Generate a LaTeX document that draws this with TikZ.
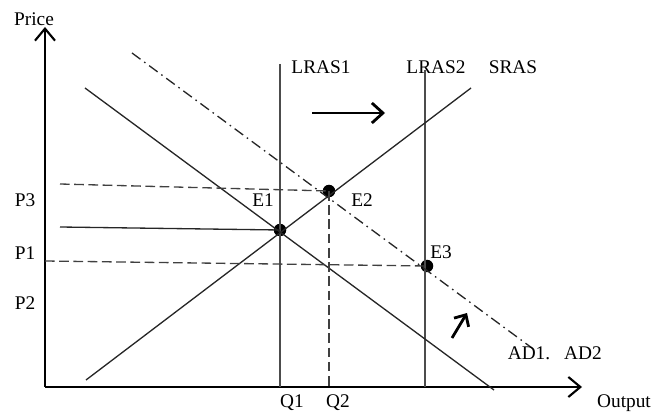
\documentclass[tikz,border=0pt]{standalone}
\usepackage{fontspec}
\setmainfont{Liberation Serif}
\usetikzlibrary{arrows.meta}
\usetikzlibrary{positioning}

\begin{document}
\begin{tikzpicture}[x=0.02cm, y=-0.02cm, font=\fontsize{11}{13}\selectfont,
		curve/.style={line width=0.75pt, black!85},
		vline/.style={line width=0.75pt, black!70},
		guide/.style={line width=0.75pt, black!75, dash pattern=on 5.5pt off 2.6pt},
		shifted/.style={line width=0.75pt, black!85, dash pattern=on 6pt off 2.6pt on 0.9pt off 2.6pt},
		eqdot/.style={circle, fill=black, minimum size=2.5mm, inner sep=0pt},
		lab/.style={inner sep=1pt}]
		\useasboundingbox (0,0) rectangle (653,415);
		% axes
		\coordinate (O) at (45,387);
		\coordinate (ytop) at (45,27);
		\coordinate (xend) at (582,387);
		\draw[line width=1.2pt, -{Straight Barb[length=2.4mm, width=4mm]}] (O) -- (ytop);
		\draw[line width=1.2pt, -{Straight Barb[length=2.4mm, width=4mm]}] (O) -- (xend);
		\node[lab] (price) at (34,19) {Price};
		\node[lab] (output) at (624,403) {Output};
		% equilibrium points
		\node[eqdot] (E1) at (280,230) {};
		\node[eqdot] (E2) at (329,191) {};
		\node[eqdot] (E3) at (427,266) {};
		% long run supply
		\coordinate (lras1top) at (280,64);
		\coordinate (lras1bot) at (280,387);
		\coordinate (lras2top) at (425,70);
		\coordinate (lras2bot) at (425,387);
		\draw[vline] (lras1top) -- (lras1bot);
		\draw[vline] (lras2top) -- (lras2bot);
		% short run supply, demand curves
		\coordinate (srasa) at (86,380);
		\coordinate (srasb) at (471,88);
		\coordinate (ad1a) at (85,88);
		\coordinate (ad1b) at (494,390);
		\coordinate (ad2a) at (132,53);
		\coordinate (ad2b) at (532,348);
		\draw[curve] (srasa) -- (srasb);
		\draw[curve] (ad1a) -- (ad1b);
		\draw[shifted] (ad2a) -- (ad2b);
		% price guides
		\coordinate (p3start) at (60,184);
		\coordinate (pstart) at (60,227);
		\coordinate (p1start) at (45,261);
		\coordinate (q2bot) at (329,387);
		\draw[curve] (pstart) -- (E1.center);
		\draw[guide] (p3start) -- (E2.center);
		\draw[guide] (p1start) -- (E3.center);
		\draw[guide] (E2.center) -- (q2bot);
		% shift arrows
		\coordinate (sh1a) at (312,113);
		\coordinate (sh1b) at (385,113);
		\coordinate (sh2a) at (452,338);
		\coordinate (sh2b) at (467,313);
		\draw[line width=1.6pt, -{Straight Barb[length=2.2mm, width=4mm]}] (sh1a) -- (sh1b);
		\draw[line width=1.6pt, -{Straight Barb[length=1.8mm, width=3.4mm]}] (sh2a) -- (sh2b);
		% labels
		\node[lab] (lras1) at (321,67) {LRAS1};
		\node[lab] (lras2) at (436,67) {LRAS2};
		\node[lab] (sras) at (513,67) {SRAS};
		\node[lab] (e1) at (263,200) {E1};
		\node[lab] (e2) at (362,200) {E2};
		\node[lab] (e3) at (441,252) {E3};
		\node[lab] (p3) at (25,200) {P3};
		\node[lab] (p1) at (25,253) {P1};
		\node[lab] (p2) at (25,303) {P2};
		\node[lab] (q1) at (292,403) {Q1};
		\node[lab] (q2) at (338,403) {Q2};
		\node[lab] (ad1) at (529,353) {AD1.};
		\node[lab] (ad2) at (583,353) {AD2};
	\end{tikzpicture}
\end{document}
